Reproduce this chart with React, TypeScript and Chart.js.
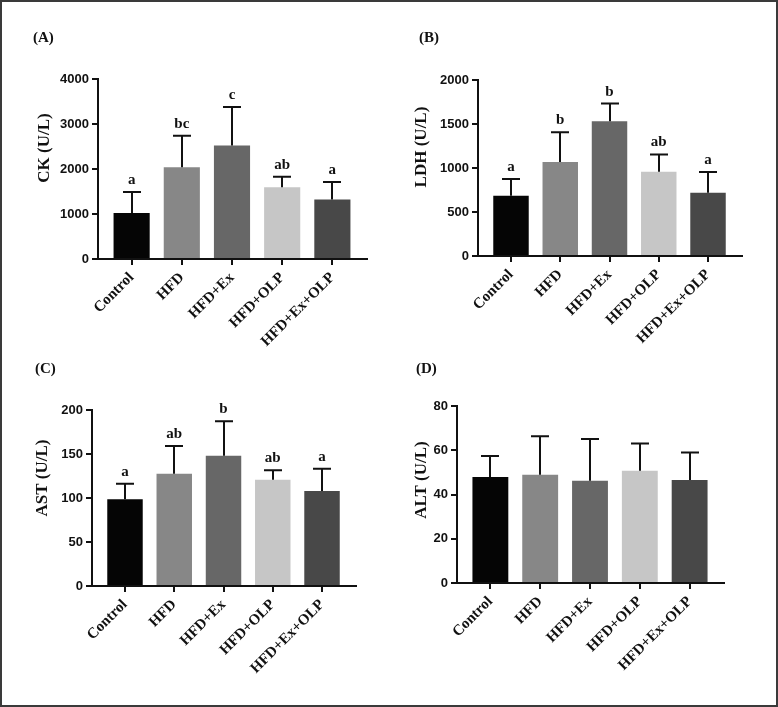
import React, { useEffect, useRef } from 'react';
import { Chart, registerables } from 'chart.js';

Chart.register(...registerables);

// ---------- data ----------
const groups = ['Control', 'HFD', 'HFD+Ex', 'HFD+OLP', 'HFD+Ex+OLP'];
const barColors = ['#050505', '#878787', '#676767', '#c6c6c6', '#484848'];

const ckMean = [1020, 2040, 2520, 1595, 1320];
const ckSD = [470, 700, 860, 235, 390];
const ckLetters = ['a', 'bc', 'c', 'ab', 'a'];
const ckTicks = [0, 1000, 2000, 3000, 4000];

const ldhMean = [684, 1068, 1531, 957, 718];
const ldhSD = [190, 337, 201, 197, 236];
const ldhLetters = ['a', 'b', 'b', 'ab', 'a'];
const ldhTicks = [0, 500, 1000, 1500, 2000];

const astMean = [98.5, 127.6, 148.1, 120.8, 108];
const astSD = [17.8, 31.5, 39, 10.6, 25.3];
const astLetters = ['a', 'ab', 'b', 'ab', 'a'];
const astTicks = [0, 50, 100, 150, 200];

const altMean = [47.9, 48.9, 46.2, 50.7, 46.6];
const altSD = [9.5, 17.4, 18.9, 12.4, 12.4];
const altLetters: string[] = [];
const altTicks = [0, 20, 40, 60, 80];

const panelLabels = ['(A)', '(B)', '(C)', '(D)'];
const yTitles = ['CK (U/L)', 'LDH (U/L)', 'AST (U/L)', 'ALT (U/L)'];

// ---------- layout (page coordinates) ----------
const SERIF = '"Liberation Serif", "Times New Roman", Times, serif';
const SANS = '"Liberation Sans", Arial, Helvetica, sans-serif';

type PanelDef = {
  mean: number[];
  sd: number[];
  letters: string[];
  ticks: number[];
  label: string;
  title: string;
  box: { left: number; top: number; width: number; height: number };
  area: { l: number; t: number; r: number; b: number };
  labelPos: { x: number; y: number };
  titlePos: { x: number; y: number };
};

const panels: PanelDef[] = [
  {
    mean: ckMean, sd: ckSD, letters: ckLetters, ticks: ckTicks, label: panelLabels[0], title: yTitles[0],
    box: { left: 0, top: 0, width: 389, height: 355 },
    area: { l: 98, t: 79, r: 367, b: 259 },
    labelPos: { x: 33, y: 38 }, titlePos: { x: 45, y: 148 },
  },
  {
    mean: ldhMean, sd: ldhSD, letters: ldhLetters, ticks: ldhTicks, label: panelLabels[1], title: yTitles[1],
    box: { left: 389, top: 0, width: 389, height: 355 },
    area: { l: 478, t: 80, r: 742, b: 256 },
    labelPos: { x: 419, y: 38 }, titlePos: { x: 422, y: 147 },
  },
  {
    mean: astMean, sd: astSD, letters: astLetters, ticks: astTicks, label: panelLabels[2], title: yTitles[2],
    box: { left: 0, top: 355, width: 389, height: 352 },
    area: { l: 92, t: 410, r: 356, b: 586 },
    labelPos: { x: 35, y: 369 }, titlePos: { x: 43, y: 478 },
  },
  {
    mean: altMean, sd: altSD, letters: altLetters, ticks: altTicks, label: panelLabels[3], title: yTitles[3],
    box: { left: 389, top: 355, width: 389, height: 352 },
    area: { l: 457, t: 406, r: 724, b: 583 },
    labelPos: { x: 416, y: 369 }, titlePos: { x: 422, y: 480 },
  },
];

function Panel({ p }: { p: PanelDef }) {
  const ref = useRef<HTMLCanvasElement | null>(null);

  useEffect(() => {
    const canvas = ref.current;
    if (!canvas) return;
    const { box, area } = p;
    const ox = box.left;
    const oy = box.top;
    const yW = area.l - ox;
    const xH = box.top + box.height - area.b;
    const padTop = area.t - oy;
    const padRight = box.left + box.width - area.r;

    const decor = {
      id: 'decor',
      afterDatasetsDraw(chart: any) {
        const ctx = chart.ctx as CanvasRenderingContext2D;
        const meta = chart.getDatasetMeta(0);
        const ys = chart.scales.y;
        ctx.save();
        ctx.strokeStyle = '#111';
        ctx.fillStyle = '#111';
        ctx.lineWidth = 2;
        ctx.font = `bold 15px ${SERIF}`;
        ctx.textAlign = 'center';
        ctx.textBaseline = 'alphabetic';
        meta.data.forEach((bar: any, i: number) => {
          const top = ys.getPixelForValue(p.mean[i] + p.sd[i]);
          const x = Math.round(bar.x);
          ctx.beginPath();
          ctx.moveTo(x, bar.y);
          ctx.lineTo(x, top);
          ctx.moveTo(x - 9, top);
          ctx.lineTo(x + 9, top);
          ctx.stroke();
          if (p.letters[i]) ctx.fillText(p.letters[i], bar.x, top - 8);
        });
        // panel label
        ctx.textAlign = 'left';
        ctx.textBaseline = 'middle';
        ctx.font = `bold 15px ${SERIF}`;
        ctx.fillText(p.label, p.labelPos.x - ox, p.labelPos.y - oy);
        // y title
        ctx.translate(p.titlePos.x - ox, p.titlePos.y - oy);
        ctx.rotate(-Math.PI / 2);
        ctx.textAlign = 'center';
        ctx.font = `bold 17px ${SERIF}`;
        ctx.fillText(p.title, 0, 0);
        ctx.restore();
      },
    };

    const chart = new Chart(canvas, {
      type: 'bar',
      data: {
        datasets: [
          {
            data: groups.map((_, i) => ({ x: i, y: p.mean[i] })),
            backgroundColor: barColors,
            borderWidth: 0,
            barPercentage: 0.9,
            categoryPercentage: 0.8,
          },
        ],
      },
      options: {
        responsive: false,
        animation: false,
        devicePixelRatio: 1,
        layout: { padding: { top: padTop, right: padRight, left: 0, bottom: 0 } },
        plugins: { legend: { display: false }, tooltip: { enabled: false }, title: { display: false } },
        scales: {
          x: {
            type: 'linear',
            min: -0.67,
            max: 4.69,
            offset: false,
            grid: { display: true, offset: false, drawOnChartArea: false, drawTicks: true, tickLength: 6, color: '#111', lineWidth: 2 },
            border: { display: true, color: '#111', width: 2 },
            ticks: {
              stepSize: 1,
              includeBounds: false,
              autoSkip: false,
              maxRotation: 45,
              minRotation: 45,
              padding: 4,
              color: '#111',
              font: { family: SERIF, size: 15, weight: 'bold' },
              callback: (v: any) => groups[Number(v)] ?? '',
            },
            afterFit: (s: any) => { s.height = xH; },
          },
          y: {
            min: p.ticks[0],
            max: p.ticks[p.ticks.length - 1],
            grid: { display: true, drawOnChartArea: false, drawTicks: true, tickLength: 6, color: '#111', lineWidth: 2 },
            border: { display: true, color: '#111', width: 2 },
            ticks: {
              stepSize: p.ticks[1] - p.ticks[0],
              padding: 3,
              color: '#111',
              font: { family: SANS, size: 13, weight: 'bold' },
              callback: (v: any) => String(v),
            },
            afterFit: (s: any) => { s.width = yW; },
          },
        },
      },
      plugins: [decor],
    } as any);

    return () => chart.destroy();
  }, [p]);

  return (
    <canvas
      ref={ref}
      width={p.box.width}
      height={p.box.height}
      style={{ position: 'absolute', left: p.box.left, top: p.box.top, width: p.box.width, height: p.box.height }}
    />
  );
}

export default function App() {
  return (
    <div style={{ position: 'absolute', left: 0, top: 0, width: 778, height: 707, background: '#fff', overflow: 'hidden' }}>
      {panels.map((p, i) => (
        <Panel key={i} p={p} />
      ))}
      <div
        style={{
          position: 'absolute', left: 0, top: 0, width: 778, height: 707,
          boxSizing: 'border-box', border: '2px solid #3a3a3a', pointerEvents: 'none',
        }}
      />
    </div>
  );
}
